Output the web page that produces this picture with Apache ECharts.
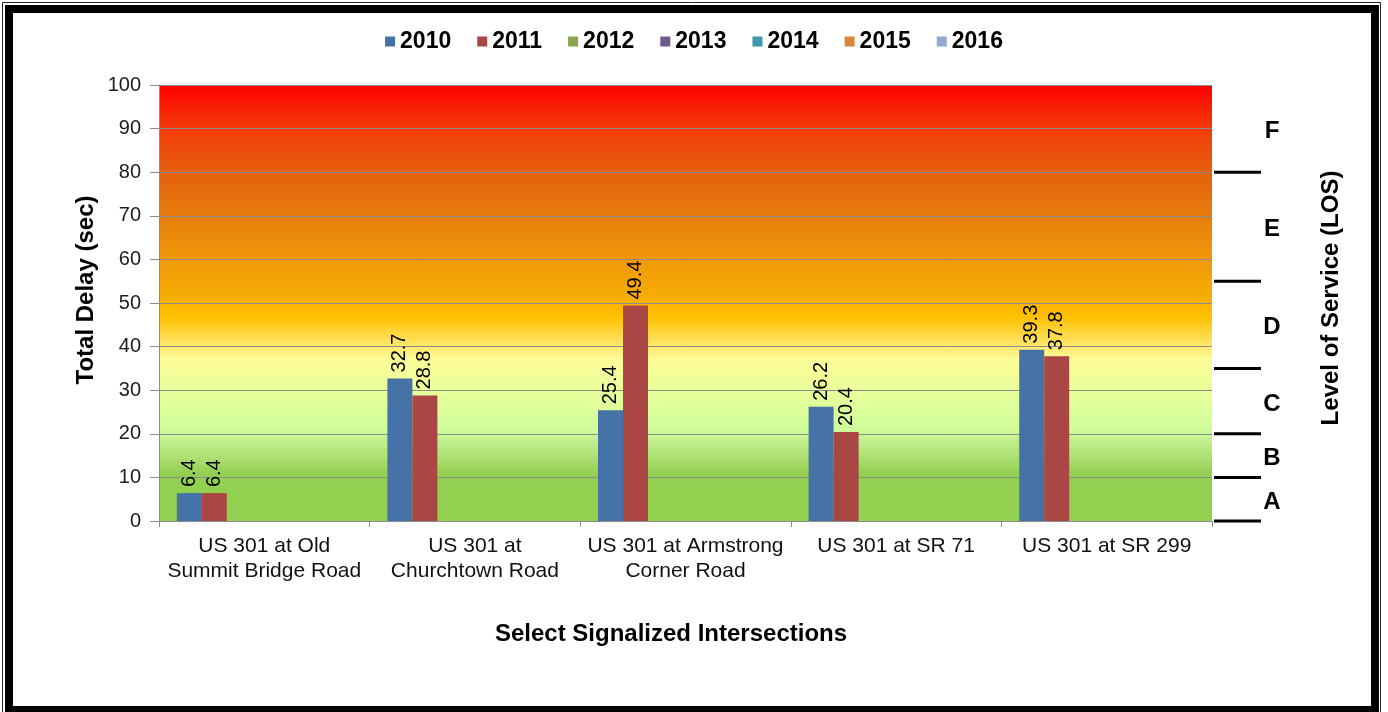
<!DOCTYPE html>
<html>
<head>
<meta charset="utf-8">
<script src="https://cdn.jsdelivr.net/npm/echarts@6/dist/echarts.min.js"></script>
<style>
  html, body { margin: 0; padding: 0; background: #fff; }
  #chart { width: 1388px; height: 712px; }
</style>
</head>
<body>
<div id="chart"></div>
<script>
// Intersections along the x axis
const categories = [
  'US 301 at Old\nSummit Bridge Road',
  'US 301 at\nChurchtown Road',
  'US 301 at Armstrong\nCorner Road',
  'US 301 at SR 71',
  'US 301 at SR 299'
];
// Study years shown in the legend
const years = ['2010', '2011', '2012', '2013', '2014', '2015', '2016'];
// Total delay (sec) per intersection
const delay2010 = [6.4, 32.7, 25.4, 26.2, 39.3];
const delay2011 = [6.4, 28.8, 49.4, 20.4, 37.8];
const delay2012 = [];
const delay2013 = [];
const delay2014 = [];
const delay2015 = [];
const delay2016 = [];
// Delay axis scale
const yMin = 0;
const yMax = 100;
const yStep = 10;
// Level of service bands: grade i spans losBreaks[i]..losBreaks[i+1]
const losBreaks = [0, 10, 20, 35, 55, 80, 100];
const losGrades = ['A', 'B', 'C', 'D', 'E', 'F'];

const yearColors = ['#4572A7', '#AA4643', '#89A54E', '#71588F', '#4198AF', '#DB843D', '#93A9CF'];
const yearData = [delay2010, delay2011, delay2012, delay2013, delay2014, delay2015, delay2016];
const FONT = "'Liberation Sans', Arial, sans-serif";

// Plot background fades from green (low delay) to red (high delay)
const bgStops = [
  [100, '#FF0000'],
  [90, '#F33A09'],
  [80, '#E5600E'],
  [70, '#E67D0C'],
  [60, '#F0980A'],
  [52, '#F6AB04'],
  [47, '#FFC000'],
  [42, '#FFDC50'],
  [37, '#FCFC98'],
  [30, '#E9FF9A'],
  [21, '#CFFD9A'],
  [19, '#C5F291'],
  [14, '#A9DD6E'],
  [11, '#93D051'],
  [0, '#92D050']
].map(([v, c]) => ({ offset: (yMax - v) / (yMax - yMin), color: c }));

const chart = echarts.init(document.getElementById('chart'), null, { renderer: 'canvas' });

const series = years.map((y, i) => ({
  name: y,
  type: 'bar',
  data: yearData[i],
  barWidth: 25,
  barGap: '0%',
  itemStyle: { color: yearColors[i] },
  label: {
    show: true,
    position: 'top',
    rotate: 90,
    align: 'left',
    verticalAlign: 'middle',
    distance: 6,
    fontFamily: FONT,
    fontSize: 20,
    color: '#000',
    formatter: p => p.value.toFixed(1)
  }
}));

chart.setOption({
  animation: false,
  backgroundColor: '#fff',
  textStyle: { fontFamily: FONT },
  legend: {
    data: years,
    top: 25,
    left: 'center',
    icon: 'rect',
    itemWidth: 10,
    itemHeight: 10,
    itemGap: 26,
    textStyle: { fontFamily: FONT, fontSize: 23, fontWeight: 'bold', color: '#000' }
  },
  grid: {
    left: 159,
    right: 176,
    top: 85,
    bottom: 191,
    show: true,
    borderWidth: 0,
    backgroundColor: new echarts.graphic.LinearGradient(0, 0, 0, 1, bgStops)
  },
  xAxis: {
    type: 'category',
    data: categories,
    axisLine: { show: true, lineStyle: { color: '#8c8c8c', width: 1 } },
    axisTick: { show: true, length: 6, interval: 0, lineStyle: { color: '#8c8c8c' } },
    axisLabel: {
      interval: 0,
      margin: 13,
      fontFamily: FONT,
      fontSize: 21,
      lineHeight: 25,
      color: '#111'
    }
  },
  yAxis: {
    type: 'value',
    min: yMin,
    max: yMax,
    interval: yStep,
    axisLine: { show: true, lineStyle: { color: '#8c8c8c', width: 1 } },
    axisTick: { show: true, length: 9, lineStyle: { color: '#8c8c8c' } },
    axisLabel: { margin: 18, fontFamily: FONT, fontSize: 20, color: '#1c1c1c' },
    splitLine: { show: true, lineStyle: { color: '#8c8c8c', width: 1 } }
  },
  series: series
});

// Level of service scale drawn to the right of the plot, placed with the delay axis
function yPx(v) {
  return chart.convertToPixel({ yAxisIndex: 0 }, v);
}
const graphics = [];
losBreaks.slice(0, -1).forEach(v => {
  const y = yPx(v);
  graphics.push({
    type: 'line',
    shape: { x1: 1214, y1: y, x2: 1261, y2: y },
    style: { stroke: '#000', lineWidth: 3 }
  });
});
losGrades.forEach((g, i) => {
  const mid = (losBreaks[i] + losBreaks[i + 1]) / 2;
  graphics.push({
    type: 'text',
    x: 1272,
    y: yPx(mid) + 3,
    style: {
      text: g,
      fontFamily: FONT,
      fontSize: 24,
      fontWeight: 'bold',
      fill: '#000',
      align: 'center',
      verticalAlign: 'middle'
    }
  });
});
// Axis titles
graphics.push({
  type: 'text',
  x: 86,
  y: 290,
  rotation: Math.PI / 2,
  style: {
    text: 'Total Delay (sec)', fontFamily: FONT, fontSize: 24, fontWeight: 'bold',
    fill: '#000', align: 'center', verticalAlign: 'middle'
  }
});
graphics.push({
  type: 'text',
  x: 1331,
  y: 298,
  rotation: Math.PI / 2,
  style: {
    text: 'Level of Service (LOS)', fontFamily: FONT, fontSize: 24, fontWeight: 'bold',
    fill: '#000', align: 'center', verticalAlign: 'middle'
  }
});
graphics.push({
  type: 'text',
  x: 671,
  y: 634,
  style: {
    text: 'Select Signalized Intersections', fontFamily: FONT, fontSize: 24, fontWeight: 'bold',
    fill: '#000', align: 'center', verticalAlign: 'middle'
  }
});
// Double frame around the figure
graphics.push({
  type: 'rect',
  shape: { x: 2.5, y: 2.5, width: 1378, height: 712 },
  style: { fill: null, stroke: '#222', lineWidth: 1 },
  z: 100
});
graphics.push({
  type: 'rect',
  shape: { x: 9, y: 9, width: 1366, height: 701 },
  style: { fill: null, stroke: '#000', lineWidth: 8 },
  z: 100
});

chart.setOption({ graphic: graphics });
</script>
</body>
</html>
